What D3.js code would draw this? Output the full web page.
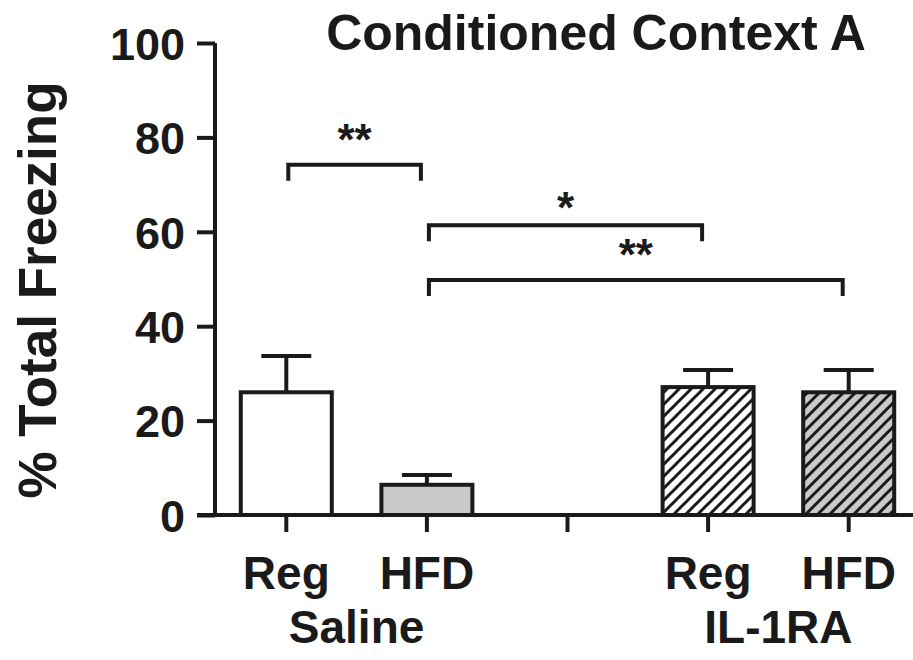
<!DOCTYPE html>
<html>
<head>
<meta charset="utf-8">
<script src="https://cdn.jsdelivr.net/npm/d3@7"></script>
<style>
  body { margin: 0; background: #fff; }
  text { font-family: "Liberation Sans", Arial, sans-serif; font-weight: bold; fill: #1a1a1a; }
</style>
</head>
<body>
<div id="graph"></div>
<script>
// slots along the x axis ("" is the empty gap between the two treatments)
var slots = ["Saline Reg", "Saline HFD", "", "IL-1RA Reg", "IL-1RA HFD"];
var tickNames = ["Reg", "HFD", "", "Reg", "HFD"];
var groupNames = ["Saline", "IL-1RA"];
var groupSlots = [["Saline Reg", "Saline HFD"], ["IL-1RA Reg", "IL-1RA HFD"]];

var bars = ["Saline Reg", "Saline HFD", "IL-1RA Reg", "IL-1RA HFD"];
var means = [26.0, 6.4, 27.1, 26.0];
var sems = [7.7, 2.1, 3.6, 4.7];
var fills = ["white", "gray", "hatch-white", "hatch-gray"];

var yTicks = [0, 20, 40, 60, 80, 100];

// significance brackets
var sigFrom = ["Saline Reg", "Saline HFD", "Saline HFD"];
var sigTo = ["Saline HFD", "IL-1RA Reg", "IL-1RA HFD"];
var sigLevel = [74.2, 61.4, 49.8];
var sigLabel = ["**", "*", "**"];

window.onload = start;

function start() {
    var width = 913, height = 660;
    var svg = d3.select('#graph').append('svg')
        .attr('width', width)
        .attr('height', height);

    var defs = svg.append('defs');
    [['hatch-white', 'white'], ['hatch-gray', '#c9c9c9']].forEach(function(p) {
        var pat = defs.append('pattern')
            .attr('id', p[0])
            .attr('patternUnits', 'userSpaceOnUse')
            .attr('width', 12).attr('height', 12);
        pat.append('rect').attr('width', 12).attr('height', 12).attr('fill', p[1]);
        pat.append('path')
            .attr('d', 'M-3,3 L3,-3 M0,12 L12,0 M9,15 L15,9')
            .attr('stroke', '#1a1a1a')
            .attr('stroke-width', 3);
    });

    var axisX = 215;
    var x = d3.scaleBand()
        .domain(slots)
        .range([216, 919]);
    var y = d3.scaleLinear()
        .domain([0, 100])
        .range([515, 43]);

    var barW = 91;
    var fillOf = function(f) {
        if (f === 'white') return 'white';
        if (f === 'gray') return '#c9c9c9';
        return 'url(#' + f + ')';
    };
    var cx = function(s) { return x(s) + x.bandwidth() / 2; };

    // error bars (upper only)
    var eb = svg.append('g').attr('stroke', '#1a1a1a').attr('stroke-width', 4);
    bars.forEach(function(b, i) {
        eb.append('line')
            .attr('x1', cx(b)).attr('x2', cx(b))
            .attr('y1', y(means[i])).attr('y2', y(means[i] + sems[i]));
        eb.append('line')
            .attr('x1', cx(b) - 25).attr('x2', cx(b) + 25)
            .attr('y1', y(means[i] + sems[i])).attr('y2', y(means[i] + sems[i]));
    });

    // bars
    svg.append('g').selectAll('rect')
        .data(bars)
        .enter().append('rect')
        .attr('x', function(d) { return cx(d) - barW / 2; })
        .attr('width', barW)
        .attr('y', function(d, i) { return y(means[i]); })
        .attr('height', function(d, i) { return y(0) - y(means[i]); })
        .attr('fill', function(d, i) { return fillOf(fills[i]); })
        .attr('stroke', '#1a1a1a')
        .attr('stroke-width', 4);

    // y axis
    var yAxis = d3.axisLeft(y)
        .tickValues(yTicks)
        .tickSize(18)
        .tickPadding(12);
    var gy = svg.append('g')
        .attr('transform', 'translate(' + axisX + ',0)')
        .call(yAxis);
    gy.select('.domain').attr('d', 'M0,' + y(100) + 'V' + y(0))
        .attr('stroke', '#1a1a1a').attr('stroke-width', 4);
    gy.selectAll('.tick line').attr('stroke', '#1a1a1a').attr('stroke-width', 4);
    gy.selectAll('.tick text')
        .style('font-size', '45px')
        .attr('dy', '0.36em');

    // x axis
    var xAxis = d3.axisBottom(x)
        .tickSize(17)
        .tickFormat(function(d, i) { return tickNames[i]; })
        .tickPadding(24);
    var gx = svg.append('g')
        .attr('transform', 'translate(0,' + y(0) + ')')
        .call(xAxis);
    gx.select('.domain').attr('d', 'M' + (axisX - 18) + ',0H' + width)
        .attr('stroke', '#1a1a1a').attr('stroke-width', 4);
    gx.selectAll('.tick line').attr('stroke', '#1a1a1a').attr('stroke-width', 4);
    gx.selectAll('.tick text')
        .style('font-size', '46px')
        .attr('dy', '0.71em');

    // group labels
    svg.append('g').selectAll('text')
        .data(groupNames)
        .enter().append('text')
        .attr('x', function(d, i) { return (cx(groupSlots[i][0]) + cx(groupSlots[i][1])) / 2; })
        .attr('y', 643)
        .attr('text-anchor', 'middle')
        .style('font-size', '46px')
        .text(function(d) { return d; });

    // significance brackets
    var sg = svg.append('g');
    sigLabel.forEach(function(lab, i) {
        var x1 = cx(sigFrom[i]) + 2, x2 = cx(sigTo[i]) - 6;
        var yy = y(sigLevel[i]), leg = y(sigLevel[i] - 3.4);
        sg.append('path')
            .attr('d', 'M' + x1 + ',' + leg + 'V' + yy + 'H' + x2 + 'V' + leg)
            .attr('fill', 'none')
            .attr('stroke', '#1a1a1a')
            .attr('stroke-width', 4);
        sg.append('text')
            .attr('x', (x1 + x2) / 2)
            .attr('y', yy - (lab.length === 1 ? 2 : 10))
            .attr('text-anchor', 'middle')
            .style('font-size', '44px')
            .text(lab);
    });

    // title
    svg.append('text')
        .attr('x', 596)
        .attr('y', 50)
        .attr('text-anchor', 'middle')
        .style('font-size', '50px')
        .text('Conditioned Context A');

    // y label
    svg.append('text')
        .attr('transform', 'translate(56,290) rotate(-90)')
        .attr('text-anchor', 'middle')
        .style('font-size', '53px')
        .text('% Total Freezing');
}
</script>
</body>
</html>
